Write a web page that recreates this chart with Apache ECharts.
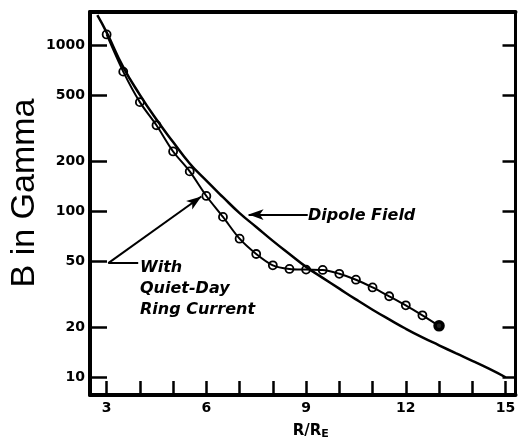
<!DOCTYPE html>
<html>
<head>
<meta charset="utf-8">
<script src="https://cdn.jsdelivr.net/npm/echarts@6/dist/echarts.min.js"></script>
<style>
  html, body { margin: 0; padding: 0; background: #fff; }
  #chart { width: 525px; height: 445px; }
</style>
</head>
<body>
<div id="chart"></div>
<script>
// R / RE positions
var ringR = [3, 3.5, 4, 4.5, 5, 5.5, 6, 6.5, 7, 7.5, 8, 8.5, 9, 9.5, 10, 10.5, 11, 11.5, 12, 12.5, 13];
// field with quiet-day ring current (gamma)
var ringB = [1156, 690, 452, 328, 228, 173, 123, 92, 68, 55, 47, 44.7, 44.3, 44.1, 41.8, 38.5, 34.6, 30.6, 27, 23.5, 20.3];

var dipoleR = [2.72, 3, 3.5, 4, 4.5, 5, 5.5, 6, 6.5, 7, 7.5, 8, 8.5, 9, 9.5, 10, 10.5, 11, 11.5, 12, 12.5, 13, 13.5, 14, 14.5, 15];
var dipoleB = [1510, 1190, 735, 500, 355, 260, 193, 152, 121, 97, 80, 66, 55, 46, 39.5, 34, 29.3, 25.4, 22.2, 19.5, 17.3, 15.5, 13.9, 12.5, 11.2, 9.95];

var xTicks = [3, 4, 5, 6, 7, 8, 9, 10, 11, 12, 13, 14, 15];
var xLabels = [3, 6, 9, 12, 15];
var yTicks = [10, 20, 50, 100, 200, 500, 1000];

var xMin = 2.5, xMax = 15.3;
var yMin = 7.78, yMax = 1578;

var labelFont = 'DejaVu Sans';

function pairs(xs, ys) {
    return xs.map(function (x, i) { return [x, ys[i]]; });
}

var ringData = pairs(ringR, ringB);
// last point drawn heavier, as in the plate
ringData[ringData.length - 1] = {
    value: ringData[ringData.length - 1],
    itemStyle: { borderWidth: 3.5, color: '#222' }
};

var option = {
    animation: false,
    backgroundColor: '#fff',
    grid: { left: 90, top: 12, right: 9.5, bottom: 45 },
    xAxis: [
        {
            type: 'value',
            min: xMin,
            max: xMax,
            splitLine: { show: false },
            axisLine: { lineStyle: { color: '#000', width: 4 } },
            axisTick: {
                inside: true,
                length: 14,
                customValues: xTicks,
                lineStyle: { color: '#000', width: 2.5 }
            },
            axisLabel: {
                customValues: xLabels,
                margin: 6,
                color: '#000',
                fontFamily: labelFont,
                fontWeight: 'bold',
                fontSize: 14
            },
            name: 'R/R{s|E}',
            nameLocation: 'middle',
            nameGap: 28,
            nameTextStyle: {
                color: '#000',
                fontFamily: labelFont,
                fontWeight: 'bold',
                fontSize: 15,
                padding: [0, 0, 0, 16],
                rich: {
                    s: {
                        fontFamily: labelFont,
                        fontWeight: 'bold',
                        fontSize: 11,
                        verticalAlign: 'bottom',
                        padding: [6, 0, 0, 0]
                    }
                }
            }
        },
        {
            type: 'value',
            position: 'top',
            min: xMin,
            max: xMax,
            splitLine: { show: false },
            axisLine: { lineStyle: { color: '#000', width: 4 } },
            axisTick: { show: false },
            axisLabel: { show: false }
        }
    ],
    yAxis: [
        {
            type: 'log',
            logBase: 10,
            min: yMin,
            max: yMax,
            splitLine: { show: false },
            minorTick: { show: false },
            axisLine: { show: true, lineStyle: { color: '#000', width: 4 } },
            axisTick: {
                inside: true,
                length: 17,
                customValues: yTicks,
                lineStyle: { color: '#000', width: 2.5 }
            },
            axisLabel: {
                customValues: yTicks,
                margin: 5,
                color: '#000',
                fontFamily: labelFont,
                fontWeight: 'bold',
                fontSize: 14,
                formatter: function (v) { return String(Math.round(v)); }
            }
        },
        {
            type: 'log',
            logBase: 10,
            position: 'right',
            min: yMin,
            max: yMax,
            splitLine: { show: false },
            axisLine: { show: true, lineStyle: { color: '#000', width: 3 } },
            axisTick: {
                inside: true,
                length: 13,
                customValues: yTicks,
                lineStyle: { color: '#000', width: 2.5 }
            },
            axisLabel: { show: false }
        }
    ],
    graphic: [
        {
            type: 'text',
            x: 25,
            y: 193,
            rotation: Math.PI / 2,
            style: {
                text: 'B in Gamma',
                fill: '#000',
                font: '34px "Liberation Sans"',
                textAlign: 'center',
                textVerticalAlign: 'middle'
            }
        },
        {
            type: 'text',
            x: 308,
            y: 216,
            style: {
                text: 'Dipole Field',
                fill: '#000',
                font: 'italic bold 16px "DejaVu Sans"',
                textAlign: 'left',
                textVerticalAlign: 'middle'
            }
        },
        {
            type: 'text',
            x: 140,
            y: 257,
            style: {
                text: 'With\nQuiet-Day\nRing Current',
                fill: '#000',
                font: 'italic bold 16px "DejaVu Sans"',
                lineHeight: 21,
                textAlign: 'left',
                textVerticalAlign: 'top'
            }
        }
    ],
    series: [
        {
            name: 'Dipole Field',
            type: 'line',
            smooth: 0.5,
            showSymbol: false,
            symbol: 'none',
            data: pairs(dipoleR, dipoleB),
            lineStyle: { color: '#000', width: 2.5 },
            markLine: {
                silent: true,
                animation: false,
                label: { show: false },
                lineStyle: { color: '#000', width: 2, type: 'solid' },
                symbol: ['none', 'arrow'],
                symbolSize: [8, 15],
                data: [
                    [{ coord: [9.05, 95] }, { coord: [7.27, 95] }]
                ]
            }
        },
        {
            name: 'With Quiet-Day Ring Current',
            type: 'line',
            smooth: 0.3,
            symbol: 'circle',
            symbolSize: 8,
            data: ringData,
            lineStyle: { color: '#000', width: 2 },
            itemStyle: { color: 'rgba(255,255,255,0)', borderColor: '#000', borderWidth: 1.8 },
            markLine: {
                silent: true,
                animation: false,
                label: { show: false },
                lineStyle: { color: '#000', width: 2, type: 'solid' },
                symbol: ['none', 'arrow'],
                symbolSize: [8, 15],
                data: [
                    [{ coord: [3.05, 48.5], symbol: 'none' }, { coord: [3.95, 48.5], symbol: 'none' }],
                    [{ coord: [3.05, 48.5] }, { coord: [5.85, 122] }]
                ]
            }
        }
    ]
};

var myChart = echarts.init(document.getElementById('chart'));
myChart.setOption(option);
</script>
</body>
</html>
